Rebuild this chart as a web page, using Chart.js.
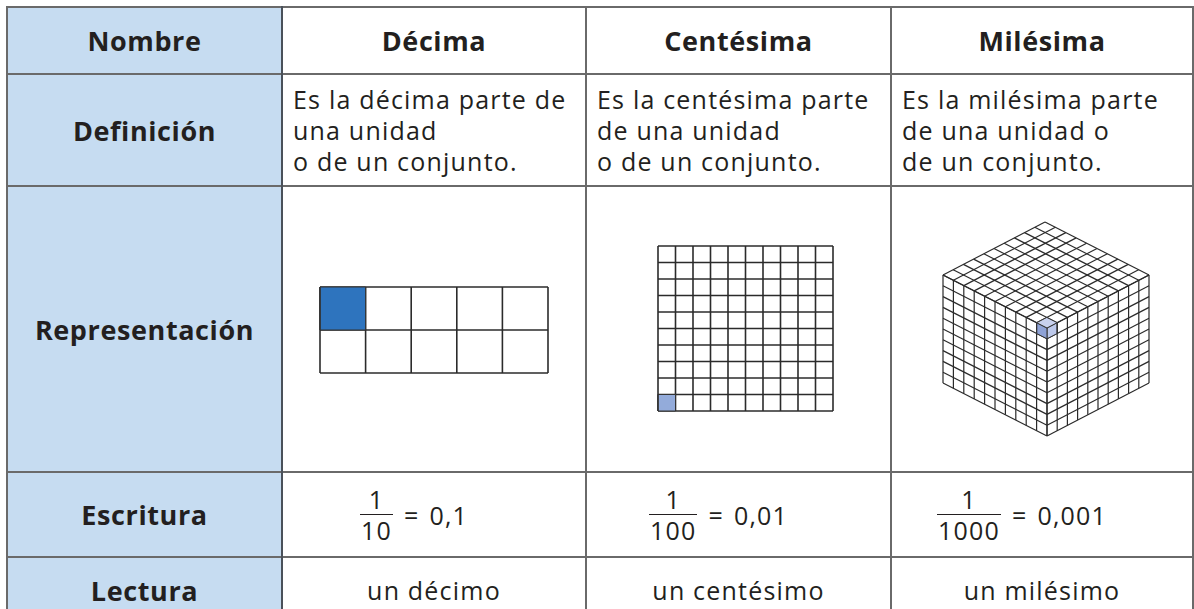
<!DOCTYPE html>
<html><head><meta charset="utf-8">
<script src="https://cdn.jsdelivr.net/npm/chart.js@4/dist/chart.umd.min.js"></script>
<style>
html,body{margin:0;padding:0}
body{width:1194px;height:609px;overflow:hidden;background:#fff;font-family:'Open Sans',sans-serif;color:#231f20;position:relative}
.cell{position:absolute;box-sizing:border-box;display:flex;align-items:center;justify-content:center;white-space:nowrap}
.line{position:absolute;background:#6a6a6a}
.bold{font-weight:700;font-size:27px;letter-spacing:0.6px}
.reg{font-size:25px;letter-spacing:1.2px}
.def{justify-content:flex-start;padding-left:11px;line-height:31px}
.frac{display:inline-flex;flex-direction:column;align-items:center;margin-right:11px}
.frac span{line-height:22px;display:block;padding:0 1px}
.frac i{display:block;height:1.5px;background:#231f20;align-self:stretch;margin:4px 0}
.eq{margin-right:10px}
canvas{position:absolute}
</style></head><body>
<script>
// ---- data ----
const columnNames = ['Décima', 'Centésima', 'Milésima'];
const rowNames = ['Nombre', 'Definición', 'Representación', 'Escritura', 'Lectura'];
const definitions = [
  ['Es la décima parte de', 'una unidad', 'o de un conjunto.'],
  ['Es la centésima parte', 'de una unidad', 'o de un conjunto.'],
  ['Es la milésima parte', 'de una unidad o', 'de un conjunto.']
];
const numerators = ['1', '1', '1'];
const denominators = ['10', '100', '1000'];
const decimals = ['0,1', '0,01', '0,001'];
const readings = ['un décimo', 'un centésimo', 'un milésimo'];
const gridColumns = [5, 10];
const gridRows = [2, 10];
const shadedColumn = [0, 0];
const shadedRow = [1, 0];          // counted from the bottom
const shadedColors = ['#2E74BE', '#93ABDA'];
const cubeDivisions = 10;
const cubeFaceColors = ['#C8D1EE', '#8EA2D6', '#BDC9EB']; // top, left, right

// ---- layout ----
const xs = [7, 282, 586, 891, 1193];
const ys = [7, 74, 186, 472, 557, 623];
const body = document.body;
function el(tag, cls, style, html) {
  const e = document.createElement(tag);
  if (cls) e.className = cls;
  Object.assign(e.style, style || {});
  if (html !== undefined) e.innerHTML = html;
  body.appendChild(e);
  return e;
}
// header column background
el('div', '', {position:'absolute', left: xs[0]+'px', top: ys[0]+'px', width:(xs[1]-xs[0])+'px', height:(640-ys[0])+'px', background:'#C6DCF1'});

// text cells
rowNames.forEach((r, i) => {
  el('div', 'cell bold', {left: xs[0]+'px', top: ys[i]+'px', width:(xs[1]-xs[0])+'px', height:(ys[i+1]-ys[i])+'px'}, r);
});
columnNames.forEach((c, j) => {
  const L = xs[j+1], W = xs[j+2]-xs[j+1];
  el('div', 'cell bold', {left:L+'px', top:ys[0]+'px', width:W+'px', height:(ys[1]-ys[0])+'px'}, c);
  el('div', 'cell reg def', {left:L+'px', top:ys[1]+'px', width:W+'px', height:(ys[2]-ys[1])+'px'}, '<div>'+definitions[j].join('<br>')+'</div>');
  el('div', 'cell reg', {left:L+'px', top:ys[3]+'px', width:W+'px', height:(ys[4]-ys[3])+'px', paddingRight:'40px'},
     '<span class="frac"><span>'+numerators[j]+'</span><i></i><span>'+denominators[j]+'</span></span><span class="eq">=</span><span>'+decimals[j]+'</span>');
  el('div', 'cell reg', {left:L+'px', top:ys[4]+'px', width:W+'px', height:(ys[5]-ys[4])+'px'}, readings[j]);
});
// table rules
ys.slice(0,5).forEach(y => el('div','line',{left:(xs[0]-1)+'px', top:(y-1)+'px', width:(xs[4]-xs[0]+2)+'px', height:'2px'}));
xs.forEach((x,k) => el('div','line',{left:(x-1)+'px', top:(ys[0]-1)+'px', width:'2px', height:'640px', background: k===1 ? '#4a515a' : '#6a6a6a'}));

// ---- charts ----
function seg(a, b, color, width) {
  return {data:[a, b], borderColor:color, borderWidth:width, pointRadius:0, fill:false, clip:false, order:1};
}
function poly(pts, color) {
  return {data: pts.concat([pts[0]]), borderColor:'#333', borderWidth:1, backgroundColor:color, fill:'shape', pointRadius:0, clip:false, order:0};
}
function makeChart(left, top, w, h, xr, yr, datasets) {
  const c = el('canvas', '', {left:left+'px', top:top+'px', width:w+'px', height:h+'px'});
  c.width = w; c.height = h;
  new Chart(c, {
    type:'line',
    data:{datasets},
    options:{
      responsive:false, animation:false, devicePixelRatio:1,
      layout:{padding:4},
      plugins:{legend:{display:false}, tooltip:{enabled:false}},
      elements:{line:{tension:0}},
      scales:{
        x:{type:'linear', display:false, min:xr[0], max:xr[1]},
        y:{type:'linear', display:false, min:yr[0], max:yr[1]}
      }
    }
  });
}
// square grids (Décima, Centésima)
const gridBoxes = [[316, 283, 236, 94], [654, 242, 183, 173]];
gridColumns.forEach((nc, g) => {
  const nr = gridRows[g];
  const ds = [];
  const cx = shadedColumn[g], cy = shadedRow[g];
  ds.push(poly([{x:cx,y:cy},{x:cx+1,y:cy},{x:cx+1,y:cy+1},{x:cx,y:cy+1}], shadedColors[g]));
  for (let i = 0; i <= nc; i++) ds.push(seg({x:i,y:0},{x:i,y:nr}, '#2b2b2b', 1.6));
  for (let j = 0; j <= nr; j++) ds.push(seg({x:0,y:j},{x:nc,y:j}, '#2b2b2b', 1.6));
  const b = gridBoxes[g];
  makeChart(b[0], b[1], b[2], b[3], [0, nc], [0, nr], ds);
});
// cube (Milésima): isometric projection of a cube divided in cubeDivisions per edge
(function(){
  const n = cubeDivisions;
  const R = {x:10.2, y:5.3}, Lv = {x:-10.4, y:5.3}, D = {x:0, y:-10.8};
  const P = (a, ua, b, ub) => ({x: a*ua.x + b*ub.x, y: a*ua.y + b*ub.y});
  const ds = [];
  const col = '#2b2b2b', lw = 1.2;
  for (let i = 0; i <= n; i++) {
    ds.push(seg(P(i,R,0,Lv), P(i,R,n,Lv), col, lw));
    ds.push(seg(P(i,Lv,0,R), P(i,Lv,n,R), col, lw));
    ds.push(seg(P(i,Lv,0,D), P(i,Lv,n,D), col, lw));
    ds.push(seg(P(i,D,0,Lv), P(i,D,n,Lv), col, lw));
    ds.push(seg(P(i,R,0,D), P(i,R,n,D), col, lw));
    ds.push(seg(P(i,D,0,R), P(i,D,n,R), col, lw));
  }
  const O = {x:0,y:0};
  ds.push(poly([O, P(1,R,0,D), P(1,R,1,Lv), P(1,Lv,0,D)], cubeFaceColors[0]));
  ds.push(poly([O, P(1,Lv,0,D), P(1,Lv,1,D), P(1,D,0,R)], cubeFaceColors[1]));
  ds.push(poly([O, P(1,R,0,D), P(1,R,1,D), P(1,D,0,R)], cubeFaceColors[2]));
  makeChart(939, 218, 214, 222, [-104, 102], [-108, 106], ds);
})();
</script>
</body></html>
